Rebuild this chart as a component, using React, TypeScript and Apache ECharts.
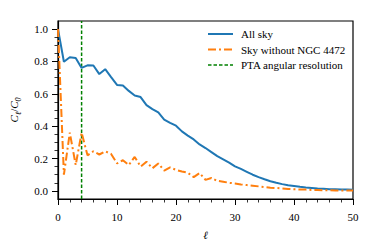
import React, { useEffect, useRef } from "react";
import * as echarts from "echarts";

const ells = Array.from({ length: 51 }, (_, i) => i);
const allSky = [
  1.0, 0.798, 0.826, 0.822, 0.76, 0.776, 0.775, 0.722, 0.752, 0.703,
  0.655, 0.652, 0.618, 0.59, 0.58, 0.53, 0.505, 0.485, 0.44, 0.42,
  0.403, 0.368, 0.342, 0.318, 0.287, 0.265, 0.24, 0.215, 0.195, 0.175,
  0.152, 0.136, 0.118, 0.1, 0.085, 0.072, 0.06, 0.05, 0.042, 0.035,
  0.03, 0.025, 0.021, 0.018, 0.015, 0.013, 0.011, 0.01, 0.009, 0.008, 0.007,
];
const withoutNGC = [
  1.0, 0.1, 0.36, 0.16, 0.36, 0.22, 0.245, 0.225, 0.245, 0.228,
  0.17, 0.19, 0.16, 0.21, 0.15, 0.18, 0.14, 0.17, 0.125, 0.145,
  0.13, 0.12, 0.112, 0.085, 0.11, 0.068, 0.08, 0.062, 0.057, 0.05,
  0.046, 0.04, 0.036, 0.032, 0.028, 0.024, 0.02, 0.018, 0.015, 0.012,
  0.01, 0.009, 0.008, 0.006, 0.005, 0.004, 0.004, 0.003, 0.003, 0.002, 0.002,
];
const ptaResolution = 4;
const legendLabels = ["All sky", "Sky without NGC 4472", "PTA angular resolution"];
const yMajorTicks = [0, 0.2, 0.4, 0.6, 0.8, 1.0];
const yMinorTicks = [
  0.05, 0.1, 0.15, 0.25, 0.3, 0.35, 0.45, 0.5, 0.55, 0.65, 0.7, 0.75, 0.85, 0.9, 0.95,
];

const FONT = "Liberation Serif, Times New Roman, serif";
const BLUE = "#1f77b4";
const ORANGE = "#ff7f0e";
const GREEN = "#008000";
const ORANGE_DASH = [8, 3, 2, 3];
const GREEN_DASH = [3.5, 2];

export default function App() {
  const ref = useRef<HTMLDivElement>(null);
  useEffect(() => {
    const chart = echarts.init(ref.current!, null, { renderer: "svg" });
    const yMin = -0.05;
    const yMax = 1.05;
    const legendStyles = [
      { stroke: BLUE, lineWidth: 2 },
      { stroke: ORANGE, lineWidth: 2, lineDash: ORANGE_DASH },
      { stroke: GREEN, lineWidth: 1.5, lineDash: GREEN_DASH },
    ];
    const legendGraphics: any[] = [];
    legendLabels.forEach((label, i) => {
      const y = 34 + i * 15.5;
      legendGraphics.push({
        type: "line",
        shape: { x1: 208, y1: y, x2: 233, y2: y },
        style: { ...legendStyles[i], fill: null },
        silent: true,
      });
      legendGraphics.push({
        type: "text",
        x: 241,
        y: y,
        style: {
          text: label,
          fontFamily: FONT,
          fontSize: 11,
          fill: "#000",
          verticalAlign: "middle",
        },
        silent: true,
      });
    });
    chart.setOption({
      animation: false,
      textStyle: { fontFamily: FONT },
      grid: {
        left: 57,
        right: 21,
        top: 21,
        bottom: 52,
        show: true,
        borderColor: "#000",
        borderWidth: 1.2,
        backgroundColor: "transparent",
      },
      graphic: legendGraphics,
      xAxis: {
        type: "value",
        min: 0,
        max: 50,
        interval: 10,
        name: "ℓ",
        nameLocation: "middle",
        nameGap: 30,
        nameTextStyle: { fontFamily: FONT, fontSize: 11, fontStyle: "italic", color: "#000" },
        axisLine: { show: true, onZero: false, lineStyle: { color: "#000", width: 1.2 } },
        axisTick: { show: true, inside: false, length: 6, lineStyle: { color: "#000", width: 1 } },
        minorTick: { show: true, splitNumber: 5, length: 3.5, lineStyle: { color: "#000", width: 0.8 } },
        axisLabel: { fontFamily: FONT, fontSize: 11, color: "#000", margin: 12 },
        splitLine: { show: false },
      },
      yAxis: [
        {
          type: "value",
          min: yMin,
          max: yMax,
          name: "{i|C}{s|ℓ}{n|/}{i|C}{s|0}",
          nameLocation: "middle",
          nameGap: 36,
          nameRotate: 90,
          nameTextStyle: {
            color: "#000",
            rich: {
              i: { fontFamily: FONT, fontSize: 11, fontStyle: "italic", color: "#000", lineHeight: 16, verticalAlign: "middle" },
              n: { fontFamily: FONT, fontSize: 11, color: "#000", lineHeight: 16, verticalAlign: "middle" },
              s: { fontFamily: FONT, fontSize: 8, fontStyle: "italic", color: "#000", lineHeight: 16, verticalAlign: "bottom", padding: [6, 0, 0, 0] },
            },
          },
          axisLine: { show: true, onZero: false, lineStyle: { color: "#000", width: 1.2 } },
          axisTick: { show: true, inside: false, length: 6, customValues: yMajorTicks, lineStyle: { color: "#000", width: 1 } },
          axisLabel: {
            fontFamily: FONT,
            fontSize: 11,
            color: "#000",
            margin: 10,
            customValues: yMajorTicks,
            formatter: (v: number) => v.toFixed(1),
          },
          splitLine: { show: false },
        },
        {
          type: "value",
          min: yMin,
          max: yMax,
          position: "left",
          axisLine: { show: false },
          axisTick: { show: true, inside: false, length: 3.5, customValues: yMinorTicks, lineStyle: { color: "#000", width: 0.8 } },
          axisLabel: { show: false },
          splitLine: { show: false },
        },
      ],
      series: [
        {
          name: legendLabels[0],
          type: "line",
          data: ells.map((l, i) => [l, allSky[i]]),
          showSymbol: false,
          symbol: "none",
          lineStyle: { color: BLUE, width: 2 },
          z: 3,
        },
        {
          name: legendLabels[1],
          type: "line",
          data: ells.map((l, i) => [l, withoutNGC[i]]),
          showSymbol: false,
          symbol: "none",
          lineStyle: { color: ORANGE, width: 2, type: ORANGE_DASH },
          z: 3,
        },
        {
          name: legendLabels[2],
          type: "line",
          data: [
            [ptaResolution, yMin],
            [ptaResolution, yMax],
          ],
          showSymbol: false,
          symbol: "none",
          lineStyle: { color: GREEN, width: 1.5, type: GREEN_DASH },
          z: 2,
        },
      ],
    });
    return () => chart.dispose();
  }, []);
  return <div ref={ref} style={{ width: 374, height: 251, position: "absolute", left: 0, top: 0 }} />;
}
